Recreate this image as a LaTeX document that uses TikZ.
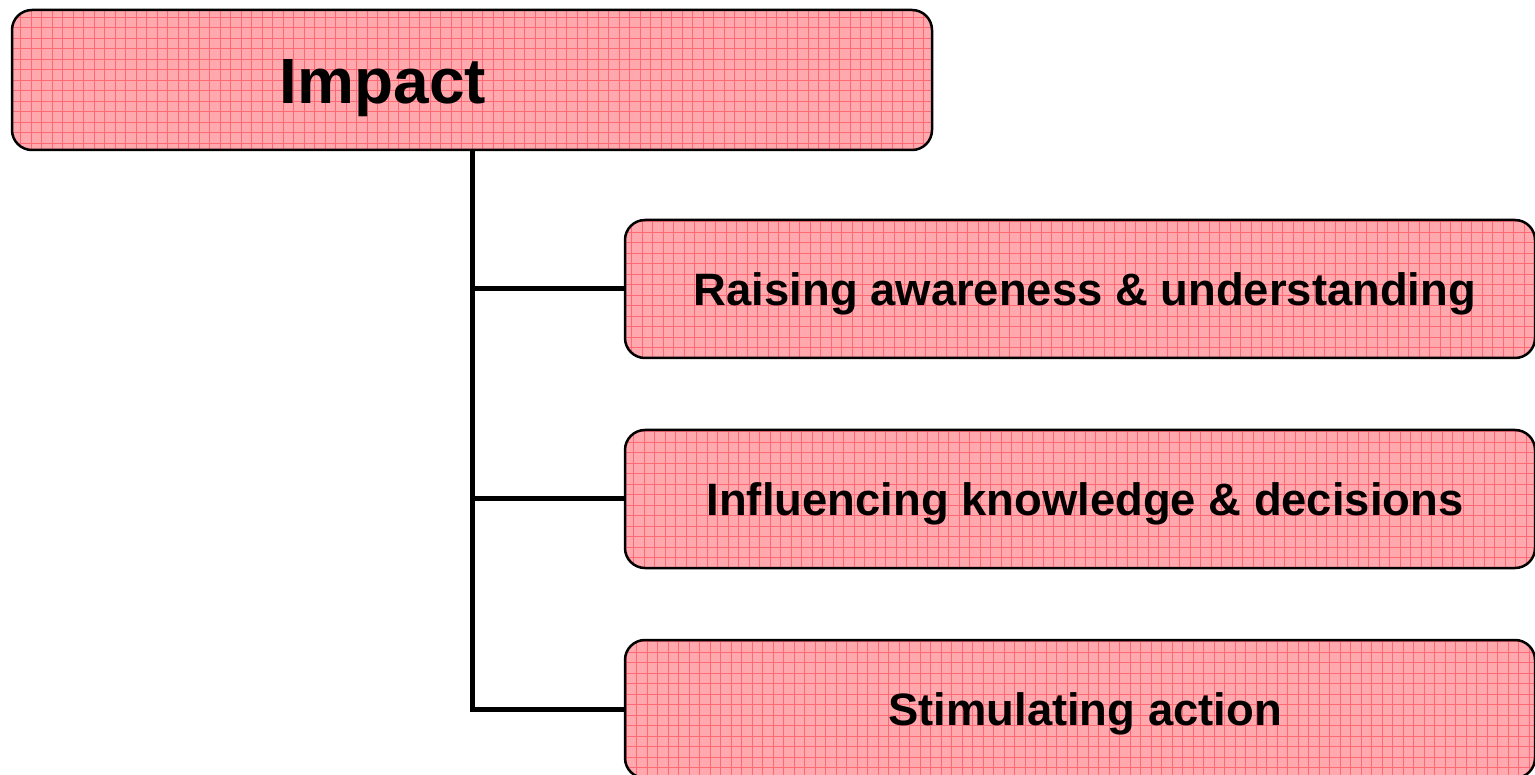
\documentclass[tikz,border=0pt]{standalone}
\usepackage{fontspec}
\setmainfont{Liberation Sans}
\definecolor{boxfill}{RGB}{255,168,173}
\definecolor{gridred}{RGB}{255,105,115}
\tikzset{
  gridbox/.style={draw=black, line width=2.5pt, rounded corners=20pt, fill=boxfill,
    path picture={\draw[gridred, line width=0.7pt] (path picture bounding box.south west) grid[step=10.5pt] (path picture bounding box.north east);}},
  topbox/.style={gridbox, minimum width=920pt, minimum height=140pt, inner sep=0pt},
  childbox/.style={gridbox, minimum width=910pt, minimum height=138pt, inner sep=0pt,
    text height=43pt, text depth=9.5pt,
    font=\fontsize{45.4}{54}\selectfont\bfseries, execute at begin node={\hspace*{10pt}}},
  link/.style={line width=5pt, draw=black}
}
\begin{document}
\begin{tikzpicture}[x=1pt,y=-1pt]
\useasboundingbox (0,0) rectangle (1535,775);
\node[topbox] (impact) at (472,80) {};
\node[font=\fontsize{64}{76}\selectfont\bfseries, inner sep=0pt] (impacttext) at (383,88) {Impact};
\node[childbox] (c1) at (1080,289) {Raising awareness \& understanding};
\node[childbox] (c2) at (1080,499) {Influencing knowledge \& decisions};
\node[childbox] (c3) at (1080,709) {Stimulating action};
\draw[link] (impact.south) -- (impact.south |- c3.west) -- (c3.west);
\draw[link] (impact.south |- c1.west) -- (c1.west);
\draw[link] (impact.south |- c2.west) -- (c2.west);
\end{tikzpicture}
\end{document}
